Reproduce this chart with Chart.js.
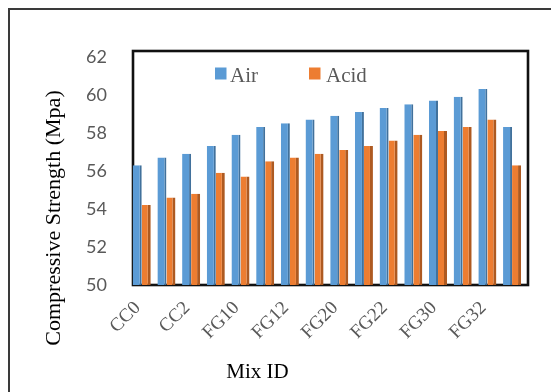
<!DOCTYPE html>
<html>
<head>
<meta charset="utf-8">
<script src="https://cdn.jsdelivr.net/npm/chart.js@4"></script>
<style>
html,body{margin:0;padding:0;background:#fff;}
#wrap{width:551px;height:392px;}
</style>
</head>
<body>
<div id="wrap"><canvas id="c" width="551" height="392"></canvas></div>
<script>
const categories = ['CC0','CC1','CC2','CC3','FG10','FG11','FG12','FG13','FG20','FG21','FG22','FG23','FG30','FG31','FG32','FG33'];
const airValues  = [56.3,56.7,56.9,57.3,57.9,58.3,58.5,58.7,58.9,59.1,59.3,59.5,59.7,59.9,60.3,58.3];
const acidValues = [54.2,54.6,54.8,55.9,55.7,56.5,56.7,56.9,57.1,57.3,57.6,57.9,58.1,58.3,58.7,56.3];
const yTicks = [50,52,54,56,58,60,62];
const seriesNames = ['Air','Acid'];
const xTitle = 'Mix ID';
const yTitle = 'Compressive Strength (Mpa)';

const SERIF = '"Liberation Serif", "DejaVu Serif", serif';
const SANS = 'Lato, "Open Sans", "Liberation Sans", sans-serif';
const DEPTH = 3.6;

const deco = {
  id: 'deco',
  beforeDraw(chart) {
    const ctx = chart.ctx;
    ctx.save();
    ctx.fillStyle = '#fff';
    ctx.fillRect(0, 0, chart.width, chart.height);
    ctx.strokeStyle = '#3a3a3a';
    ctx.lineWidth = 2;
    ctx.beginPath();
    ctx.moveTo(9, chart.height);
    ctx.lineTo(9, 9);
    ctx.lineTo(chart.width, 9);
    ctx.stroke();
    ctx.restore();
  },
  beforeDatasetsDraw(chart) {
    const ctx = chart.ctx, a = chart.chartArea;
    ctx.save();
    ctx.strokeStyle = '#111';
    ctx.lineWidth = 2.6;
    ctx.strokeRect(a.left + DEPTH, a.top, a.right - a.left, a.bottom - a.top);
    ctx.restore();
  },
  afterDraw(chart) {
    const ctx = chart.ctx;
    ctx.save();
    const legendItems = [{x: 215, tx: 230}, {x: 309, tx: 326}];
    ctx.font = '21px ' + SERIF;
    ctx.textBaseline = 'alphabetic';
    ctx.textAlign = 'left';
    chart.data.datasets.forEach((ds, i) => {
      const it = legendItems[i];
      ctx.fillStyle = ds.backgroundColor;
      ctx.fillRect(it.x, 67.5, 11.5, 12);
      ctx.fillStyle = '#595959';
      ctx.fillText(ds.label, it.tx, 81.5);
    });
    ctx.fillStyle = '#000';
    ctx.font = '21px ' + SERIF;
    ctx.textAlign = 'center';
    ctx.textBaseline = 'middle';
    ctx.fillText(xTitle, 257.5, 372);
    ctx.translate(54, 218);
    ctx.rotate(-Math.PI / 2);
    ctx.font = '22px ' + SERIF;
    ctx.fillText(yTitle, 0, 0);
    ctx.restore();
  }
};

new Chart(document.getElementById('c'), {
  type: 'bar',
  data: {
    labels: categories,
    datasets: [
      {
        label: seriesNames[0],
        data: airValues,
        backgroundColor: '#5B9BD5',
        borderColor: '#41719C',
        borderWidth: {right: 2, left: 0, top: 0, bottom: 0},
        borderSkipped: false
      },
      {
        label: seriesNames[1],
        data: acidValues,
        backgroundColor: '#ED7D31',
        borderColor: '#AE5A21',
        borderWidth: {right: 3, left: 0, top: 0, bottom: 0},
        borderSkipped: false
      }
    ]
  },
  options: {
    responsive: false,
    devicePixelRatio: 1,
    animation: false,
    events: [],
    categoryPercentage: 0.73,
    barPercentage: 1.0,
    layout: {padding: {left: 0, right: 551 - 524.4, top: 51, bottom: 0}},
    plugins: {
      legend: {display: false},
      title: {display: false},
      tooltip: {enabled: false}
    },
    scales: {
      x: {
        grid: {display: false, drawTicks: false},
        border: {display: false},
        afterFit(s) { s.height = 392 - 285; },
        ticks: {
          autoSkip: false,
          minRotation: 45,
          maxRotation: 45,
          padding: 12,
          labelOffset: -4,
          color: '#595959',
          font: {family: SERIF, size: 19},
          callback(v, i) { return i % 2 === 0 ? categories[i] : ''; }
        }
      },
      y: {
        min: 50,
        max: 62.3,
        grid: {display: false, drawTicks: false},
        border: {display: false},
        afterFit(s) { s.width = 129.4; },
        afterBuildTicks(s) { s.ticks = yTicks.map(v => ({value: v})); },
        ticks: {
          padding: 22.4,
          color: '#595959',
          font: {family: SANS, size: 18},
          callback(v) { return String(v); }
        }
      }
    }
  },
  plugins: [deco]
});
</script>
</body>
</html>
